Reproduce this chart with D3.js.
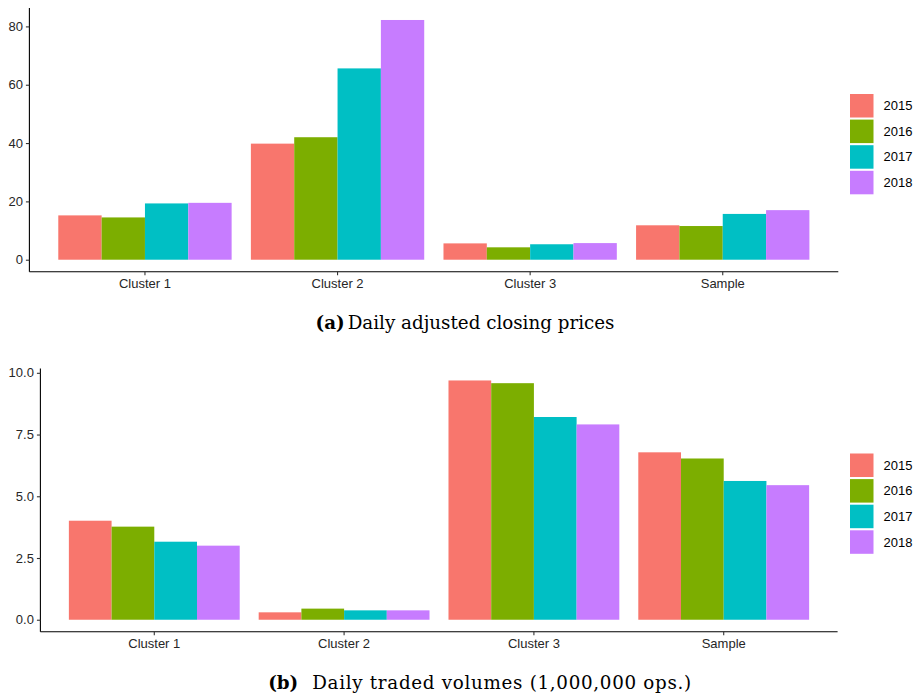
<!DOCTYPE html>
<html>
<head>
<meta charset="utf-8">
<script src="https://cdn.jsdelivr.net/npm/d3@7"></script>
<style>
  html, body { margin: 0; padding: 0; background: #fff; }
  svg { display: block; }
  .tick text { font-family: "Liberation Sans", Arial, sans-serif; font-size: 13px; fill: #262626; }
  .legend text { font-family: "Liberation Sans", Arial, sans-serif; font-size: 13px; fill: #000; }
  .caption { font-family: "DejaVu Serif", serif; font-size: 18.3px; fill: #000; }
</style>
</head>
<body>
<script>
// Categories and series
const clusters = ["Cluster 1", "Cluster 2", "Cluster 3", "Sample"];
const years = ["2015", "2016", "2017", "2018"];
const yearColors = ["#F8766D", "#7CAE00", "#00BFC4", "#C77CFF"];

// Daily adjusted closing prices, one array per year (values per cluster)
const prices2015 = [15.2, 39.8, 5.6, 11.8];
const prices2016 = [14.5, 42.0, 4.25, 11.55];
const prices2017 = [19.3, 65.6, 5.3, 15.7];
const prices2018 = [19.5, 82.2, 5.7, 17.0];
const priceTicks = [0, 20, 40, 60, 80];

// Daily traded volumes (millions of ops), one array per year
const volumes2015 = [4.01, 0.30, 9.69, 6.78];
const volumes2016 = [3.77, 0.45, 9.58, 6.53];
const volumes2017 = [3.16, 0.38, 8.21, 5.62];
const volumes2018 = [3.00, 0.38, 7.91, 5.45];
const volumeTicks = [0, 2.5, 5, 7.5, 10];

const W = 919, H = 696;
const svg = d3.select("body").append("svg").attr("width", W).attr("height", H);

function drawPanel(opt) {
  const series = opt.series;
  const rows = clusters.map((c, i) => ({
    cluster: c,
    values: years.map((y, j) => ({ year: y, value: series[j][i] }))
  }));
  const maxV = d3.max(series.flat());
  const pad = maxV * 0.05;

  const x = d3.scaleBand().domain(clusters)
    .range([opt.left, opt.right]).paddingInner(0.1).paddingOuter(0.15);
  const xIn = d3.scaleBand().domain(years).range([0, x.bandwidth()]).padding(0);
  const y = d3.scaleLinear().domain([-pad, maxV + pad]).range([opt.bottom, opt.top]);
  const color = d3.scaleOrdinal().domain(years).range(yearColors);

  const g = svg.append("g");

  // bars
  g.selectAll("g.grp").data(rows).join("g")
    .attr("class", "grp")
    .attr("transform", d => `translate(${x(d.cluster)},0)`)
    .selectAll("rect").data(d => d.values).join("rect")
    .attr("x", d => xIn(d.year))
    .attr("width", xIn.bandwidth())
    .attr("y", d => y(Math.max(0, d.value)))
    .attr("height", d => Math.abs(y(d.value) - y(0)))
    .attr("fill", d => color(d.year));

  // y axis
  const ya = g.append("g")
    .attr("transform", `translate(${opt.left},0)`)
    .call(d3.axisLeft(y).tickValues(opt.ticks).tickFormat(opt.fmt).tickSize(3.5).tickPadding(3));
  ya.select(".domain").attr("d", `M0,${opt.bottom}V${opt.top}`).attr("stroke", "#000").attr("stroke-width", 1.1);
  ya.selectAll(".tick line").attr("stroke", "#333").attr("stroke-width", 1.1);

  // x axis
  const xa = g.append("g")
    .attr("transform", `translate(0,${opt.bottom})`)
    .call(d3.axisBottom(x).tickSize(3.5).tickPadding(4));
  xa.select(".domain").attr("d", `M${opt.left},0H${opt.right}`).attr("stroke", "#000").attr("stroke-width", 1.1);
  xa.selectAll(".tick line").attr("stroke", "#333").attr("stroke-width", 1.1);

  // legend
  const leg = g.append("g").attr("class", "legend")
    .attr("transform", `translate(${opt.legendX},${opt.legendY})`);
  const keyStep = 25.6, keySize = 23.5;
  const items = leg.selectAll("g").data(years).join("g")
    .attr("transform", (d, i) => `translate(0,${i * keyStep})`);
  items.append("rect").attr("width", keySize).attr("height", keySize)
    .attr("fill", d => color(d));
  items.append("text").attr("x", keySize + 10).attr("y", keySize / 2)
    .attr("dy", "0.35em").text(d => d);

  // caption
  const cap = svg.append("text").attr("class", "caption")
    .attr("x", opt.captionX).attr("y", opt.captionY)
    .attr("text-anchor", "middle");
  cap.append("tspan").attr("font-weight", "bold").text(opt.tag);
  cap.append("tspan").attr("dx", opt.tagGap)
    .attr("letter-spacing", opt.spacing || 0).text(opt.caption);
}

drawPanel({
  series: [prices2015, prices2016, prices2017, prices2018],
  ticks: priceTicks, fmt: d3.format("d"),
  left: 29.4, right: 838.3, top: 8, bottom: 271.7,
  legendX: 850, legendY: 94,
  captionX: 465, captionY: 329,
  tag: "(a)", tagGap: 3, caption: "Daily adjusted closing prices"
});

drawPanel({
  series: [volumes2015, volumes2016, volumes2017, volumes2018],
  ticks: volumeTicks, fmt: d3.format(".1f"),
  left: 40.4, right: 837.6, top: 368.5, bottom: 631.7,
  legendX: 850, legendY: 453.5,
  captionX: 480, captionY: 689,
  tag: "(b)", tagGap: 14, spacing: 0.7, caption: "Daily traded volumes (1,000,000 ops.)"
});
</script>
</body>
</html>
